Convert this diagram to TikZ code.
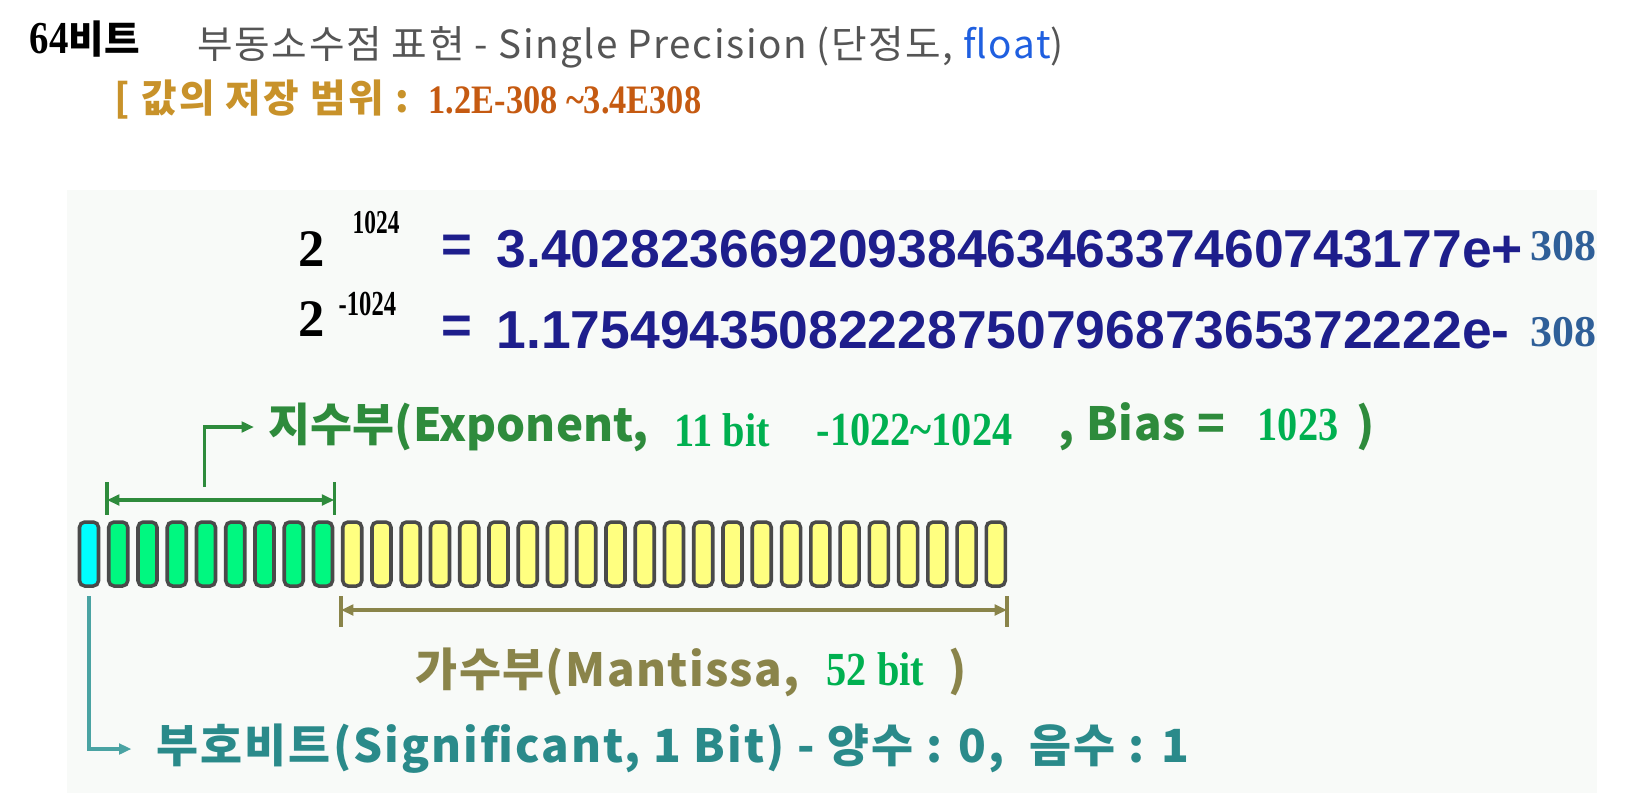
\documentclass[tikz,border=0pt]{standalone}
\usepackage{fontspec}
\setmainfont{Liberation Serif}
\newfontfamily\korfont{Noto Sans CJK KR}
\newfontfamily\narrowfont[FakeStretch=0.85]{Liberation Serif}
\newfontfamily\tallfont[FakeStretch=0.7]{Liberation Serif}
\newfontfamily\digitfont{Liberation Sans}
\usepackage{tikz}
\usetikzlibrary{positioning}
\usetikzlibrary{calc}
\usetikzlibrary{arrows.meta}

\definecolor{TitleGray}{HTML}{555555}
\definecolor{FloatBlue}{HTML}{1F5FE0}
\definecolor{RangeGold}{HTML}{C8922A}
\definecolor{RangeOrange}{HTML}{C55A11}
\definecolor{ValueNavy}{HTML}{1E1E8C}
\definecolor{ExpBlue}{HTML}{2F5F98}
\definecolor{ExpoGreen}{HTML}{2E8B3C}
\definecolor{NumGreen}{HTML}{00B050}
\definecolor{MantOlive}{HTML}{8A844A}
\definecolor{SignTeal}{HTML}{2A8A8A}
\definecolor{SignLine}{HTML}{4AA3A3}
\definecolor{SignFill}{HTML}{00FFFF}
\definecolor{ExpoFill}{HTML}{00F880}
\definecolor{MantFill}{HTML}{FFFF80}
\definecolor{BoxGray}{HTML}{4A4A4A}
\definecolor{PanelBg}{HTML}{F8FAF8}

\tikzset{
	label/.style={anchor=west, inner sep=0},
	bitbox/.style={draw=BoxGray, line width=1pt, rounded corners=1.5pt,
		minimum width=1.9mm, minimum height=6.4mm, inner sep=0},
	tip/.style={-{Triangle[length=3.5pt, width=3pt]}},
	bothtips/.style={{Triangle[length=3.5pt, width=3pt]}-{Triangle[length=3.5pt, width=3pt]}}
}

\begin{document}
\begin{tikzpicture}[x=0.1mm, y=-0.1mm]

\useasboundingbox (0,0) rectangle (1626,798);
\fill[PanelBg] (67,190) rectangle (1597,793);

% heading
\node[label] (bits) at (29,39)
	{\narrowfont\bfseries\fontsize{13}{13}\selectfont 64{\korfont\bfseries\fontsize{11}{11}\selectfont 비트}};

\node[label, TitleGray] (title) at (197,47)
	{\korfont\fontsize{11}{11}\selectfont\addfontfeature{LetterSpace=4}부동소수점 표현 - Single Precision (단정도, \textcolor{FloatBlue}{float})};

\node[label, RangeGold] (rangeLabel) at (114,100)
	{\korfont\bfseries\fontsize{11}{11}\selectfont\addfontfeature{LetterSpace=6}[ 값의 저장 범위 :};

\node[label, RangeOrange] (rangeValue) at (428,100)
	{\narrowfont\bfseries\fontsize{11.5}{11.5}\selectfont 1.2E-308 \textasciitilde3.4E308};

% powers of two
\node[label] (twoMax) at (298,249) {\bfseries\fontsize{15}{15}\selectfont 2};
\node[label] (powMax) at (352,223) {\tallfont\bfseries\fontsize{9.5}{9.5}\selectfont 1024};
\node[label, ValueNavy] (eqMax) at (441,249) {\digitfont\bfseries\fontsize{15}{15}\selectfont =};
\node[label, ValueNavy] (valMax) at (496,249)
	{\digitfont\bfseries\fontsize{15.2}{15.2}\selectfont 3.4028236692093846346337460743177e+};
\node[label, ExpBlue] (expMax) at (1530,246) {\bfseries\fontsize{12.5}{12.5}\selectfont 308};

\node[label] (twoMin) at (298,319) {\bfseries\fontsize{15}{15}\selectfont 2};
\node[label] (powMin) at (338,304) {\tallfont\bfseries\fontsize{10}{10}\selectfont -1024};
\node[label, ValueNavy] (eqMin) at (441,330) {\digitfont\bfseries\fontsize{15}{15}\selectfont =};
\node[label, ValueNavy] (valMin) at (496,330)
	{\digitfont\bfseries\fontsize{15.2}{15.2}\selectfont 1.1754943508222875079687365372222e-};
\node[label, ExpBlue] (expMin) at (1530,332) {\bfseries\fontsize{12.5}{12.5}\selectfont 308};

% exponent caption
\node[label, ExpoGreen] (expoText) at (268,427)
	{\korfont\bfseries\fontsize{13}{13}\selectfont 지수부(Exponent,};
\node[label, NumGreen] (expoBits) at (674,430)
	{\narrowfont\bfseries\fontsize{13.5}{13.5}\selectfont 11 bit};
\node[label, NumGreen] (expoRange) at (816,430)
	{\narrowfont\bfseries\fontsize{13.5}{13.5}\selectfont -1022\textasciitilde1024};
\node[label, ExpoGreen] (biasText) at (1058,427)
	{\korfont\bfseries\fontsize{13}{13}\selectfont\addfontfeature{LetterSpace=2}, Bias =};
\node[label, NumGreen] (biasValue) at (1257,425)
	{\narrowfont\bfseries\fontsize{13.5}{13.5}\selectfont 1023};
\node[label, ExpoGreen] (expoClose) at (1356,427)
	{\korfont\bfseries\fontsize{13}{13}\selectfont )};

% bit cells
\node[bitbox, fill=SignFill] (b0) at (89,554) {};
\foreach \i in {1,...,8}
	\node[bitbox, fill=ExpoFill] (b\i) at ({89+\i*29.25},554) {};
\foreach \i in {9,...,31}
	\node[bitbox, fill=MantFill] (b\i) at ({89+\i*29.25},554) {};

% mantissa caption
\node[label, MantOlive] (mantText) at (415,672)
	{\korfont\bfseries\fontsize{13}{13}\selectfont\addfontfeature{LetterSpace=3}가수부(Mantissa,};
\node[label, MantOlive] (mantClose) at (948,672)
	{\korfont\bfseries\fontsize{13}{13}\selectfont )};
\node[label, NumGreen] (mantBits) at (826,669)
	{\narrowfont\bfseries\fontsize{13.5}{13.5}\selectfont 52 bit};

% sign caption
\node[label, SignTeal] (signText) at (156,749)
	{\korfont\bfseries\fontsize{13}{13}\selectfont\addfontfeature{LetterSpace=4.5}부호비트(Significant, 1 Bit) - 양수 : 0,\ \ 음수 : 1};

% ---

\coordinate (expoL) at (b1.west |- 0,500);
\coordinate (expoR) at (b8.east |- 0,500);
\draw[ExpoGreen, line width=0.9pt] (b1.west |- 0,482) -- (b1.west |- 0,515);
\draw[ExpoGreen, line width=0.9pt] (b8.east |- 0,482) -- (b8.east |- 0,515);
\draw[ExpoGreen, line width=0.9pt, bothtips] (expoL) -- (expoR);
\coordinate (expoTap) at ($(expoL)!0.43!(expoR) + (0,-13)$);
\draw[ExpoGreen, line width=0.9pt, tip] (expoTap) |- ([xshift=-4pt]expoText.west);

\coordinate (mantL) at (b9.west |- 0,610);
\coordinate (mantR) at (b31.east |- 0,610);
\draw[MantOlive, line width=0.9pt] (b9.west |- 0,596) -- (b9.west |- 0,627);
\draw[MantOlive, line width=0.9pt] (b31.east |- 0,596) -- (b31.east |- 0,627);
\draw[MantOlive, line width=0.9pt, bothtips] (mantL) -- (mantR);

\coordinate (signTop) at (b0.south |- 0,596);
\draw[SignLine, line width=0.9pt, tip] (signTop) |- ([xshift=-7pt]signText.west);

\end{tikzpicture}
\end{document}
